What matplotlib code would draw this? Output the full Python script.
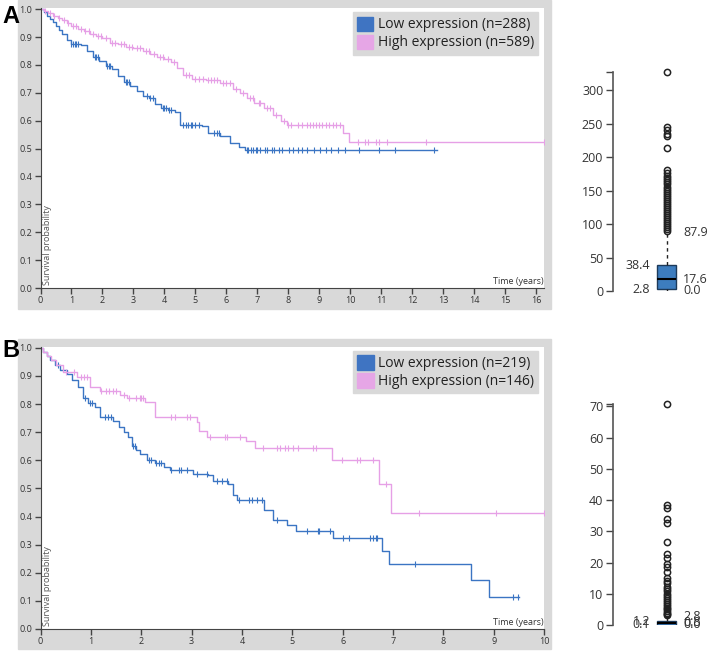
import numpy as np
import matplotlib.pyplot as plt
from matplotlib.patches import Rectangle, Patch
import matplotlib.transforms as mtransforms

plt.rcParams['font.family'] = ['Open Sans', 'DejaVu Sans']

# ---- panel A: Kaplan-Meier steps (time in years, survival probability)
low_a_t = [0, 0.1, 0.2, 0.3, 0.4, 0.5, 0.6, 0.7, 0.85, 1.0, 1.3, 1.5, 1.7, 1.9, 2.1, 2.3, 2.5, 2.7,
           2.9, 3.1, 3.3, 3.5, 3.7, 3.9, 4.1, 4.35, 4.5, 5.2, 5.4, 5.8, 6.1, 6.4, 6.6]
low_a_s = [1.0, 0.99, 0.975, 0.965, 0.955, 0.94, 0.925, 0.91, 0.89, 0.875, 0.87, 0.85, 0.83, 0.815,
           0.795, 0.785, 0.76, 0.74, 0.725, 0.705, 0.69, 0.68, 0.66, 0.645, 0.64, 0.63, 0.585, 0.58,
           0.555, 0.545, 0.52, 0.505, 0.495]
low_a_end = 12.8
low_a_cens = [1.0, 1.05, 1.1, 1.15, 1.2, 1.75, 1.8, 1.85, 2.15, 2.2, 2.25, 2.75, 2.8, 2.85, 3.45,
              3.55, 3.62, 3.95, 4.0, 4.05, 4.15, 4.2, 4.6, 4.7, 4.75, 4.85, 4.9, 5.0, 5.1, 5.6, 5.7,
              5.75, 6.65, 6.7, 6.8, 6.85, 6.95, 7.0, 7.1, 7.23, 7.3, 7.46, 7.55, 7.69, 7.8, 8.03,
              8.15, 8.32, 8.45, 8.61, 8.84, 9.01, 9.2, 9.36, 9.59, 9.82, 10.28, 10.91, 11.43, 12.69]

high_a_t = [0, 0.1, 0.25, 0.4, 0.55, 0.7, 0.85, 1.0, 1.2, 1.4, 1.6, 1.8, 2.0, 2.25, 2.5, 2.75, 3.0,
            3.3, 3.55, 3.75, 4.0, 4.2, 4.4, 4.6, 4.9, 5.35, 5.8, 6.2, 6.45, 6.65, 6.9, 7.2, 7.5,
            7.75, 7.95, 9.75, 9.95]
high_a_s = [1.0, 0.995, 0.985, 0.975, 0.97, 0.96, 0.95, 0.94, 0.93, 0.92, 0.91, 0.905, 0.895, 0.88,
            0.875, 0.865, 0.86, 0.85, 0.84, 0.83, 0.82, 0.81, 0.79, 0.765, 0.75, 0.745, 0.735,
            0.715, 0.70, 0.68, 0.665, 0.645, 0.62, 0.60, 0.585, 0.555, 0.525]
high_a_end = 16.25
high_a_cens = [0.15, 0.3, 0.45, 0.6, 0.75, 0.9, 1.05, 1.15, 1.3, 1.45, 1.55, 1.7, 1.85, 1.95,
               2.1, 2.3, 2.4, 2.6, 2.7, 2.85, 2.95, 3.1, 3.2, 3.4, 3.5, 3.65, 3.85, 3.95, 4.1,
               4.3, 4.7, 4.8, 5.0, 5.1, 5.25, 5.4, 5.5, 5.6, 5.7, 5.9, 6.0, 6.1, 6.3, 6.55, 6.75,
               6.85, 7.05, 7.1, 7.3, 7.4, 7.6, 7.85, 8.0, 8.1, 8.3, 8.45, 8.6, 8.7, 8.8, 8.9, 9.0,
               9.1, 9.2, 9.3, 9.45, 9.55, 9.65, 10.25, 10.47, 10.57, 10.82, 10.92, 11.19, 12.44,
               16.25]

# ---- panel B
low_b_t = [0, 0.05, 0.12, 0.19, 0.28, 0.39, 0.52, 0.62, 0.75, 0.85, 0.95, 1.08, 1.18, 1.44, 1.55,
           1.65, 1.74, 1.81, 1.9, 1.97, 2.11, 2.27, 2.45, 2.57, 3.03, 3.33, 3.43, 3.73, 3.83, 3.9,
           4.43, 4.61, 4.9, 5.07, 5.81, 6.78, 6.92, 8.55, 8.9]
low_b_s = [1.0, 0.985, 0.97, 0.955, 0.94, 0.92, 0.907, 0.885, 0.86, 0.82, 0.805, 0.79, 0.753,
           0.741, 0.717, 0.70, 0.682, 0.652, 0.635, 0.624, 0.60, 0.589, 0.575, 0.564, 0.553,
           0.546, 0.525, 0.515, 0.476, 0.458, 0.423, 0.387, 0.37, 0.348, 0.322, 0.277, 0.231,
           0.174, 0.115]
low_b_end = 9.5
low_b_cens = [0.35, 0.88, 0.98, 1.02, 1.28, 1.35, 1.4, 1.83, 1.87, 2.15, 2.2, 2.3, 2.35, 2.4,
              2.6, 2.75, 2.8, 2.9, 3.1, 3.3, 3.5, 3.6, 3.7, 3.95, 4.15, 4.2, 4.3, 4.4, 4.7, 5.3,
              5.51, 5.54, 5.74, 6.0, 6.13, 6.55, 6.61, 6.66, 6.69, 7.44, 9.38, 9.49]

high_b_t = [0, 0.05, 0.12, 0.2, 0.3, 0.45, 0.72, 0.98, 1.18, 1.58, 1.71, 2.07, 2.27, 3.1, 3.14,
            3.3, 4.09, 4.26, 5.78, 6.72, 6.96]
high_b_s = [1.0, 0.985, 0.97, 0.955, 0.94, 0.915, 0.895, 0.862, 0.847, 0.833, 0.823, 0.806,
            0.753, 0.735, 0.706, 0.684, 0.668, 0.644, 0.60, 0.515, 0.411]
high_b_end = 10.0
high_b_cens = [0.5, 0.66, 0.8, 0.86, 0.92, 1.2, 1.3, 1.37, 1.43, 1.5, 1.65, 1.75, 1.9, 1.97,
               2.0, 2.04, 2.6, 2.67, 2.9, 2.97, 3.36, 3.66, 3.7, 3.96, 4.42, 4.69, 4.75, 4.85,
               4.92, 5.02, 5.12, 5.41, 5.47, 5.98, 6.29, 6.34, 6.6, 6.87, 7.51, 9.04, 10.0]

legend_a = ['Low expression (n=288)', 'High expression (n=589)']
legend_b = ['Low expression (n=219)', 'High expression (n=146)']

# ---- expression box plots (summary values shown on the chart)
box_a = dict(whislo=0.0, q1=2.8, med=17.6, q3=38.4, whishi=87.9)
fliers_a = [327, 245, 241, 235, 232, 213, 181, 176, 172, 168, 165, 162, 159, 155, 152, 149, 146,
            143, 140, 137, 134, 131, 128, 125, 122, 119, 116, 113, 110, 107, 104, 101, 98, 95,
            92, 90]
box_b = dict(whislo=0.0, q1=0.1, med=0.8, q3=1.2, whishi=2.8)
fliers_b = [70.8, 38.6, 37.6, 33.8, 32.8, 26.5, 22.6, 21.6, 19.4, 18.6, 17.0, 15.2, 14.2, 13.5,
            12.2, 11.5, 10.8, 10.0, 9.3, 8.6, 8.0, 7.4, 6.8, 6.2, 5.6, 5.0, 4.5, 4.0, 3.5, 3.1]

BLUE = '#3b75c3'
PINK = '#e6a0e6'
GRAY = '#d9d9d9'
W, H = 708, 651

fig = plt.figure(figsize=(W / 100, H / 100), dpi=100)


def rect(x0, y0, x1, y1):
    return [x0 / W, 1 - y1 / H, (x1 - x0) / W, (y1 - y0) / H]


for y0, y1 in [(0, 309), (339, 649)]:
    fig.add_artist(Rectangle((18 / W, 1 - y1 / H), (551 - 18) / W, (y1 - y0) / H,
                             transform=fig.transFigure, color=GRAY, zorder=0))


def km(ax, t, s, tend, cens, color):
    ax.step(list(t) + [tend], list(s) + [s[-1]], where='post', color=color, lw=1)
    idx = np.searchsorted(t, cens, side='right') - 1
    ax.plot(cens, np.array(s)[idx], ls='none', marker='|', ms=5, mew=0.8, color=color)


def km_panel(pos, xmax, low, high, labels, letter, letter_y):
    ax = fig.add_axes(pos)
    km(ax, *low, BLUE)
    km(ax, *high, PINK)
    ax.set_xlim(0, xmax)
    ax.set_ylim(0, 1.003)
    ax.set_xticks(range(int(xmax) + 1))
    ax.set_yticks(np.arange(0, 1.01, 0.1))
    ax.yaxis.set_major_formatter(plt.FuncFormatter(lambda v, p: f'{v:.1f}'))
    for sp in ['top', 'right']:
        ax.spines[sp].set_visible(False)
    for sp in ['left', 'bottom']:
        ax.spines[sp].set_color('#444444')
    ax.tick_params(length=4, width=1, labelsize=6.5, colors='#444444', labelcolor='#333333', pad=2)
    ax.text(0.004, 0.012, 'Survival probability', rotation=90, transform=ax.transAxes,
            fontsize=6.5, color='#555555', ha='left', va='bottom')
    ax.text(1.0, 0.008, 'Time (years)', transform=ax.transAxes, fontsize=6.5,
            color='#333333', ha='right', va='bottom')
    handles = [Patch(color='#3f74c2'), Patch(color='#e6a6e6')]
    leg = ax.legend(handles, labels, loc='upper right', bbox_to_anchor=(0.988, 0.985),
                    fontsize=10, frameon=True, fancybox=False, facecolor=GRAY, edgecolor=GRAY,
                    framealpha=1, handlelength=1.2, handleheight=1.2, handletextpad=0.3,
                    borderpad=0.3, labelspacing=0.15, borderaxespad=0)
    for txt in leg.get_texts():
        txt.set_color('#222222')
    fig.text(2 / W, 1 - letter_y / H, letter, fontsize=17, fontweight='bold',
             family='Liberation Sans', ha='left', va='top')
    return ax


km_panel(rect(40.5, 8.3, 544, 288), 16.25,
         (low_a_t, low_a_s, low_a_end, low_a_cens),
         (high_a_t, high_a_s, high_a_end, high_a_cens), legend_a, 'A', 5)
km_panel(rect(40.5, 347, 544, 629), 10,
         (low_b_t, low_b_s, low_b_end, low_b_cens),
         (high_b_t, high_b_s, high_b_end, high_b_cens), legend_b, 'B', 339)


def box_panel(pos, stats, fliers, ymax, ticks):
    ax = fig.add_axes(pos)
    st = dict(stats)
    st['fliers'] = fliers
    bp = ax.bxp([st], positions=[0.568], widths=0.2, patch_artist=True, showcaps=False,
                boxprops=dict(facecolor='#3d7dbf', edgecolor='#1d3a5a', lw=1),
                medianprops=dict(color='black', lw=1.5),
                whiskerprops=dict(color='#222222', lw=1, ls=(0, (2.5, 2.5))),
                flierprops=dict(marker='o', ms=4.5, mfc='none', mec='#222222', mew=1.1))
    for art in bp['fliers']:
        art.set_clip_on(False)
    ax.set_xlim(0, 1)
    ax.set_ylim(0, ymax)
    ax.set_yticks(ticks)
    ax.set_yticks([ymax], minor=True)
    ax.tick_params(axis='y', which='both', length=5, width=1, labelsize=9,
                   colors='#444444', labelcolor='#333333', pad=2)
    ax.set_xticks([])
    for sp in ['top', 'right', 'bottom']:
        ax.spines[sp].set_visible(False)
    ax.spines['left'].set_color('#555555')
    ax.spines['left'].set_linewidth(1.2)
    ax.patch.set_alpha(0)
    tr = mtransforms.blended_transform_factory(ax.transAxes, ax.transData)
    for key in ['q3', 'q1']:
        ax.text(0.39, stats[key], f'{stats[key]:.1f}', transform=tr, ha='right', va='center',
                fontsize=9, color='#333333')
    for key in ['whishi', 'med', 'whislo']:
        ax.text(0.737, stats[key], f'{stats[key]:.1f}', transform=tr, ha='left', va='center',
                fontsize=9, color='#333333')


box_panel(rect(613, 71.6, 708, 291), box_a, fliers_a, 327.5, range(0, 301, 50))
box_panel(rect(613, 404, 708, 625), box_b, fliers_b, 70.8, range(0, 71, 10))

fig.savefig('out.png', dpi=100)
